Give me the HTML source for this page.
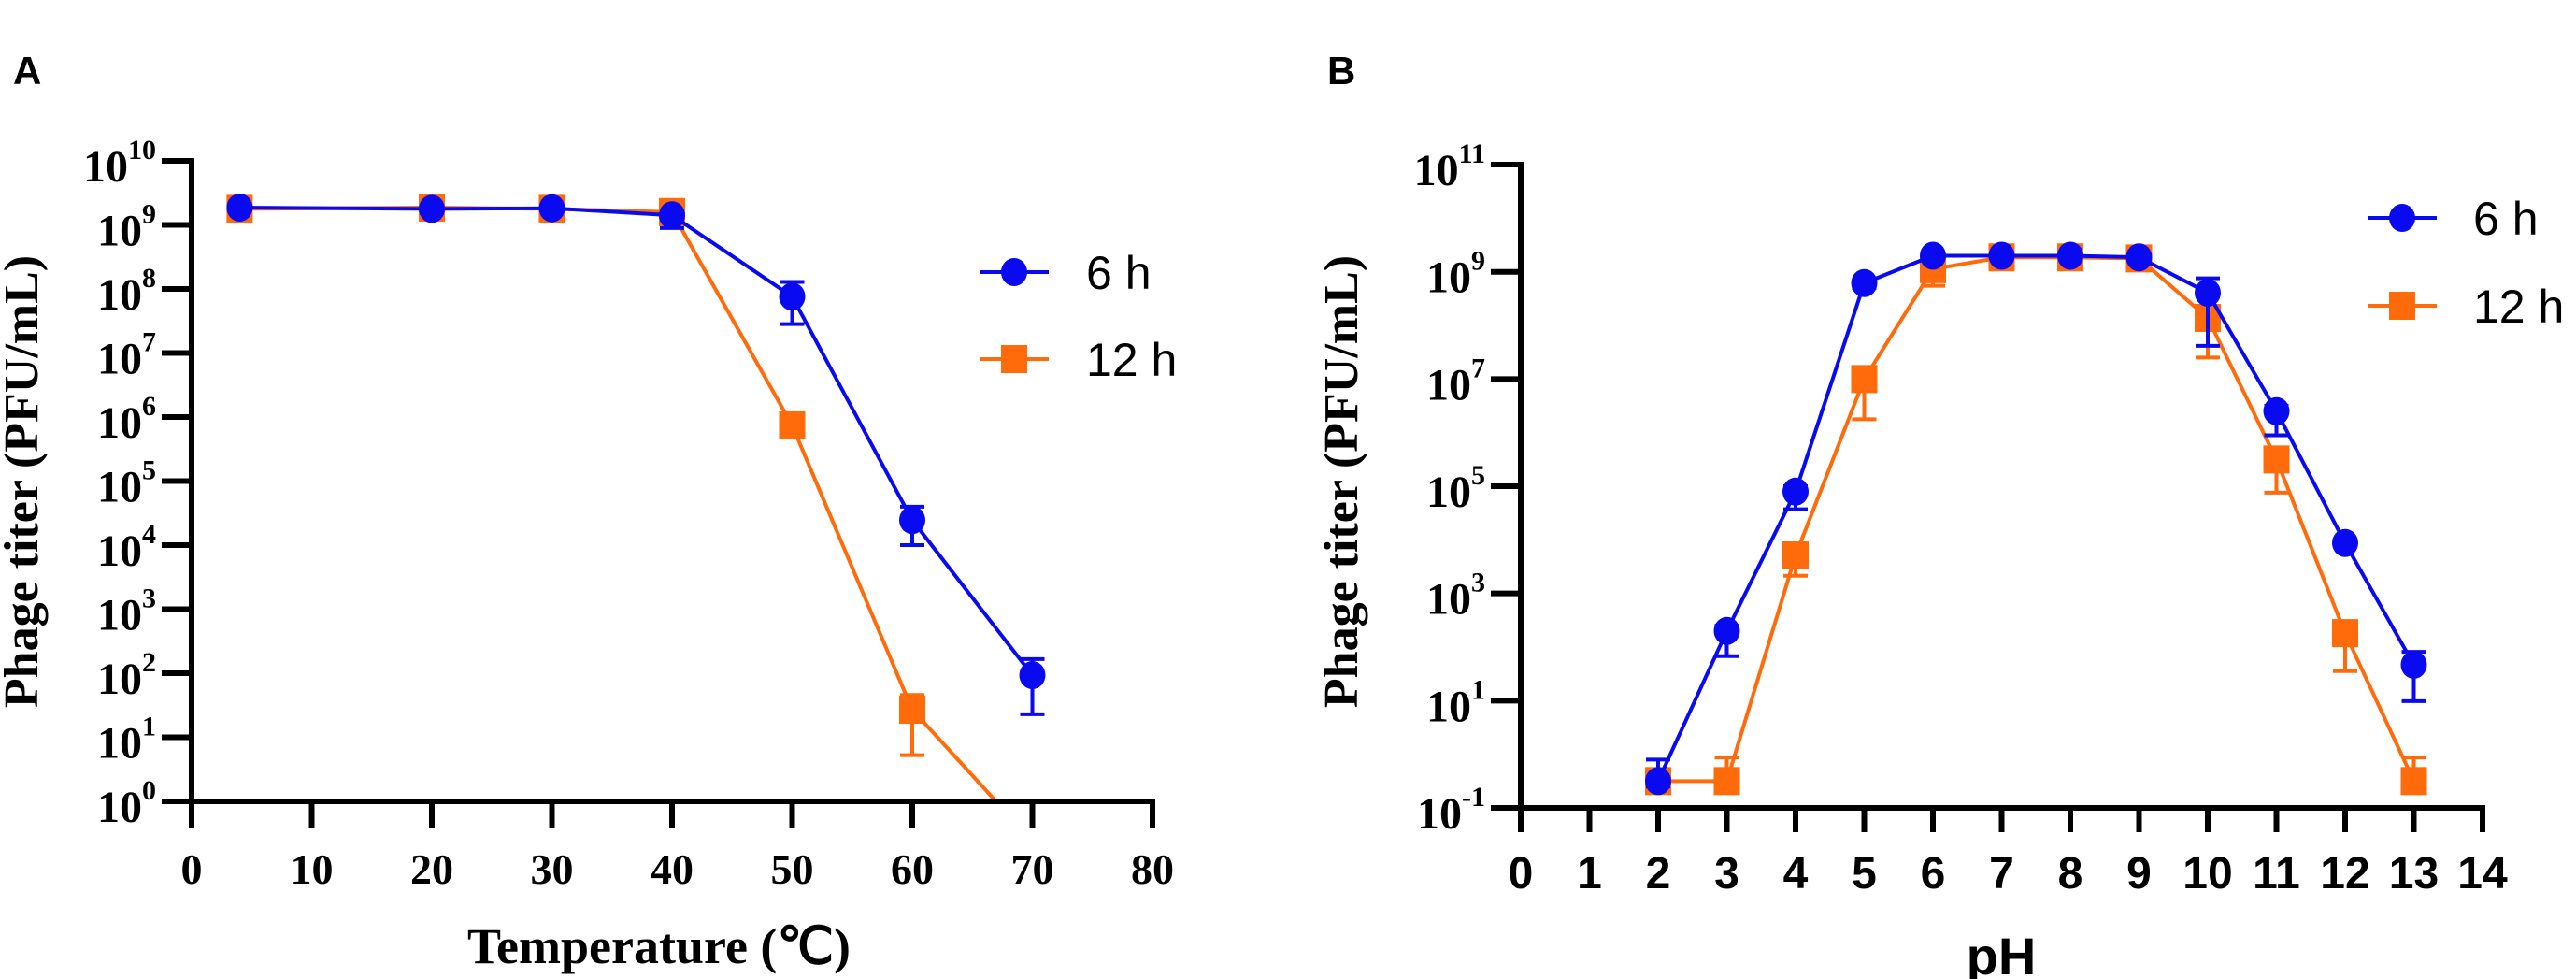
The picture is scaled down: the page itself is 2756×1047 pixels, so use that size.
<!DOCTYPE html>
<html><head><meta charset="utf-8">
<style>
html,body{margin:0;padding:0;background:#fff;}
svg{display:block;}
.tnr{font-family:"Liberation Serif",serif;font-weight:bold;}
.ars{font-family:"Liberation Sans",sans-serif;}
</style></head>
<body>
<svg id="fig" width="2756" height="1047" viewBox="0 0 2756 1047" xmlns="http://www.w3.org/2000/svg">
<text x="14" y="90" class="ars" font-weight="bold" font-size="42">A</text>
<text x="1420" y="90" class="ars" font-weight="bold" font-size="42">B</text>
<g id="pa"></g>
<g id="pb"></g>
</svg>
<script>
// Panel A data (log10 PFU/mL)
const tempX = [4, 20, 30, 40, 50, 60, 70];
const tempH6 = [9.27, 9.25, 9.26, 9.15, 7.88, 4.39, 1.97];
const tempH6Up = [9.32, 9.3, 9.3, 9.2, 8.11, 4.6, 2.22];
const tempH6Lo = [9.22, 9.2, 9.22, 8.95, 7.45, 4.0, 1.36];
const tempH12 = [9.25, 9.27, 9.25, 9.2, 5.87, 1.43, -0.62];
const tempH12Up = [9.3, 9.32, 9.3, 9.25, 5.92, 1.66, -0.6];
const tempH12Lo = [9.2, 9.22, 9.2, 9.15, 5.75, 0.72, -0.65];
const tempXTicks = [0, 10, 20, 30, 40, 50, 60, 70, 80];
const tempYTicks = [0, 1, 2, 3, 4, 5, 6, 7, 8, 9, 10];
// Panel B data
const phX = [2, 3, 4, 5, 6, 7, 8, 9, 10, 11, 12, 13];
const phH6 = [-0.5, 2.3, 4.9, 8.79, 9.3, 9.3, 9.3, 9.27, 8.61, 6.4, 3.94, 1.67];
const phH6Up = [-0.1, 2.4, 5.0, 8.85, 9.35, 9.35, 9.35, 9.32, 8.88, 6.5, 4.0, 1.91];
const phH6Lo = [-0.6, 1.83, 4.57, 8.7, 9.25, 9.25, 9.25, 9.2, 7.62, 5.95, 3.9, 0.99];
const phH12 = [-0.5, -0.5, 3.71, 7.0, 9.05, 9.27, 9.27, 9.25, 8.14, 5.5, 2.26, -0.5];
const phH12Up = [-0.45, -0.06, 3.8, 7.1, 9.15, 9.32, 9.32, 9.3, 8.25, 5.6, 2.4, -0.06];
const phH12Lo = [-0.55, -0.55, 3.33, 6.25, 8.74, 9.2, 9.2, 9.2, 7.4, 4.88, 1.55, -0.55];
const phXTicks = [0,1,2,3,4,5,6,7,8,9,10,11,12,13,14];
const phYTicks = [-1, 1, 3, 5, 7, 9, 11];

const NS = "http://www.w3.org/2000/svg";
const BLUE = "#0a0af0", ORANGE = "#ff6a0a";
function mk(parent, tag, attrs, txt) {
  const e = document.createElementNS(NS, tag);
  for (const k in attrs) e.setAttribute(k, attrs[k]);
  if (txt !== undefined) e.textContent = txt;
  parent.appendChild(e);
  return e;
}

function drawPanel(g, cfg) {
  const sx = v => cfg.x0 + (v - cfg.xmin) * cfg.xs;
  const sy = v => cfg.y0 - (v - cfg.ymin) * cfg.ys;
  const clipId = cfg.id + "-clip";
  const defs = mk(g, "defs", {});
  const cp = mk(defs, "clipPath", {id: clipId});
  mk(cp, "rect", {x: cfg.x0 - 30, y: 100, width: sx(cfg.xmax) - cfg.x0 + 60, height: cfg.y0 - 100});
  // series drawn in reverse so first series is on top
  cfg.series.slice().reverse().forEach(s => {
    const sg = mk(g, "g", {"clip-path": "url(#" + clipId + ")"});
    
    
    const pts = s.x.map((v, i) => sx(v) + "," + sy(s.y[i])).join(" ");
    const ln = mk(sg, "polyline", {points: pts, fill: "none", stroke: s.color, "stroke-width": 4});
    
    
    s.x.forEach((v, i) => {
      const cx = sx(v);
      const up = sy(s.up[i]), lo = sy(s.lo[i]);
      const eb = mk(sg, "path", {d: `M${cx},${up}V${lo}M${cx-13},${up}H${cx+13}M${cx-13},${lo}H${cx+13}`, stroke: s.color, "stroke-width": 4, fill: "none"});
      
      
      const cy = sy(s.y[i]);
      let m;
      if (s.shape === "circle") m = mk(sg, "ellipse", {cx: cx, cy: cy, rx: 14, ry: 15, fill: s.color});
      else m = mk(sg, "rect", {x: cx - 14, y: cy - 15, width: 28, height: 30, fill: s.color});
      
      
    });
  });
  // axes
  const ax = mk(g, "path", {d: `M${cfg.x0},${sy(cfg.ymax)-3}V${cfg.y0}H${sx(cfg.xmax)+3}`, stroke: "#000", "stroke-width": 6, fill: "none"});
  
  
  cfg.xticks.forEach(t => {
    const x = sx(t);
    const tk = mk(g, "line", {x1: x, x2: x, y1: cfg.y0, y2: cfg.y0 + cfg.tlen, stroke: "#000", "stroke-width": 6});
    
    
    const lb = mk(g, "text", {x: x, y: cfg.y0 + cfg.xlabDy, "text-anchor": "middle", "font-size": cfg.xlabSize, class: cfg.xlabClass, "font-weight": "bold"}, String(t));
    
    
  });
  cfg.yticks.forEach(t => {
    const y = sy(t);
    const tk = mk(g, "line", {x1: cfg.x0 - 32, x2: cfg.x0, y1: y, y2: y, stroke: "#000", "stroke-width": 6});
    
    
    const lb = mk(g, "text", {x: cfg.x0 - 38, y: y + 22, "text-anchor": "end", class: "tnr", "font-size": 48});
    
    
    mk(lb, "tspan", {}, "10");
    mk(lb, "tspan", {dy: -24, "font-size": 30}, String(t));
  });
  // titles
  const yt = mk(g, "text", {x: 0, y: 0, transform: `translate(${cfg.ytX},${cfg.ytY}) rotate(-90)`, "text-anchor": "middle", class: "tnr", "font-size": 52}, "Phage titer (PFU/mL)");
  
  
  const xt = mk(g, "text", {x: cfg.xtX, y: cfg.xtY, "text-anchor": "middle", class: cfg.xtClass, "font-weight": "bold", "font-size": cfg.xtSize}, cfg.xtitle);
  
  
  // legend
  cfg.series.forEach((s, i) => {
    const ly = cfg.legY[i];
    const lg = mk(g, "g", {});
    
    
    mk(lg, "line", {x1: cfg.legX - 37, x2: cfg.legX + 37, y1: ly, y2: ly, stroke: s.color, "stroke-width": 4});
    if (s.shape === "circle") mk(lg, "ellipse", {cx: cfg.legX, cy: ly, rx: 14, ry: 15, fill: s.color});
    else mk(lg, "rect", {x: cfg.legX - 14, y: ly - 15, width: 28, height: 30, fill: s.color});
    mk(lg, "text", {x: cfg.legX + cfg.legDx, y: ly + 18, class: "ars", "font-size": 50}, s.label);
  });
}

drawPanel(document.getElementById("pa"), {
  id: "pa", x0: 205, xmin: 0, xmax: 80, xs: 12.85, y0: 857, ymin: 0, ymax: 10, ys: 68.5,
  xticks: tempXTicks, yticks: tempYTicks, tlen: 28, xlabDy: 88, xlabSize: 46, xlabClass: "tnr",
  ytX: 40, ytY: 515, xtX: 705, xtY: 1030, xtClass: "tnr", xtSize: 54, xtitle: "Temperature (\u2103)",
  legX: 1085, legY: [291, 384], legDx: 77,
  series: [
    {name: "6h", label: "6 h", color: BLUE, shape: "circle", x: tempX, y: tempH6, up: tempH6Up, lo: tempH6Lo},
    {name: "12h", label: "12 h", color: ORANGE, shape: "square", x: tempX, y: tempH12, up: tempH12Up, lo: tempH12Lo}
  ]
});
drawPanel(document.getElementById("pb"), {
  id: "pb", x0: 1627, xmin: 0, xmax: 14, xs: 73.5, y0: 864, ymin: -1, ymax: 11, ys: 57.33,
  xticks: phXTicks, yticks: phYTicks, tlen: 26, xlabDy: 86, xlabSize: 48, xlabClass: "ars",
  ytX: 1452, ytY: 515, xtX: 2141, xtY: 1042, xtClass: "ars", xtSize: 56, xtitle: "pH",
  legX: 2570, legY: [233, 327], legDx: 76,
  series: [
    {name: "6h", label: "6 h", color: BLUE, shape: "circle", x: phX, y: phH6, up: phH6Up, lo: phH6Lo},
    {name: "12h", label: "12 h", color: ORANGE, shape: "square", x: phX, y: phH12, up: phH12Up, lo: phH12Lo}
  ]
});
</script>
</body></html>
